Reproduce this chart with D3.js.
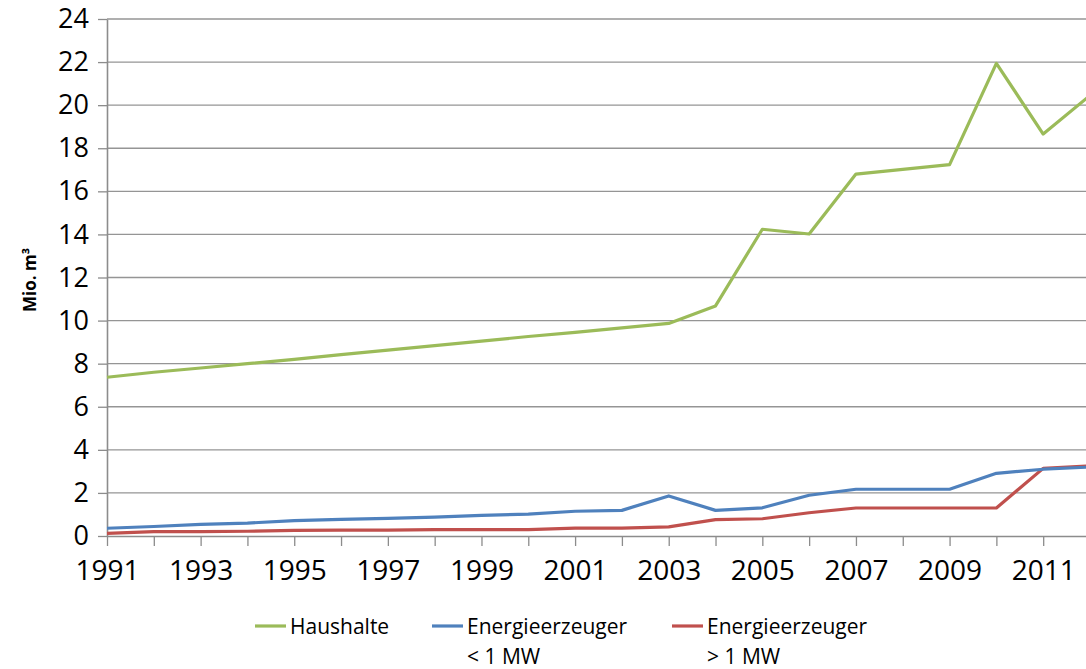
<!DOCTYPE html>
<html>
<head>
<meta charset="utf-8">
<script src="https://cdn.jsdelivr.net/npm/d3@7"></script>
<style>
  body { margin: 0; background: #fff; }
  svg { display: block; font-family: "Open Sans", sans-serif; }
</style>
</head>
<body>
<div id="chart"></div>
<script>
// Data
var years = d3.range(1991, 2013);
var haushalte = [7.37, 7.6, 7.8, 8.0, 8.2, 8.42, 8.63, 8.84, 9.05, 9.26, 9.45, 9.66, 9.87, 10.68, 14.24, 14.02, 16.8, 17.02, 17.24, 21.94, 18.66, 20.45];
var unter1MW = [0.36, 0.44, 0.54, 0.6, 0.71, 0.77, 0.82, 0.88, 0.96, 1.02, 1.15, 1.19, 1.86, 1.19, 1.31, 1.89, 2.17, 2.17, 2.17, 2.91, 3.1, 3.2];
var ueber1MW = [0.12, 0.2, 0.2, 0.22, 0.26, 0.27, 0.27, 0.3, 0.3, 0.3, 0.37, 0.37, 0.42, 0.76, 0.8, 1.08, 1.3, 1.3, 1.3, 1.3, 3.14, 3.25];
var yTicks = d3.range(0, 25, 2);
var xLabelYears = d3.range(1991, 2013, 2);

var series = [
    { name: ["Haushalte"], values: haushalte, color: "#9BBB59" },
    { name: ["Energieerzeuger", "< 1 MW"], values: unter1MW, color: "#4F81BD" },
    { name: ["Energieerzeuger", "> 1 MW"], values: ueber1MW, color: "#C0504D" }
];

// Dimensions
var svgWidth = 1086;
var svgHeight = 669;

var svg = d3.select("#chart")
    .append("svg")
    .attr("width", svgWidth)
    .attr("height", svgHeight);

// Scales (plot runs past the right edge of the picture)
var xScale = d3.scaleLinear()
    .domain([1991, 2012])
    .range([107, 1090]);

var yScale = d3.scaleLinear()
    .domain([0, 24])
    .range([536, 19]);

// Horizontal gridlines
svg.append("g")
    .selectAll("line")
    .data(yTicks.filter(d => d > 0))
    .enter()
    .append("line")
    .attr("x1", xScale(1991))
    .attr("x2", xScale(2012))
    .attr("y1", d => yScale(d))
    .attr("y2", d => yScale(d))
    .attr("stroke", "#959595")
    .attr("stroke-width", 1.3);

// Left axis
var leftAxis = d3.axisLeft(yScale)
    .tickValues(yTicks)
    .tickSize(9)
    .tickPadding(9)
    .tickSizeOuter(0);

var gLeft = svg.append("g")
    .attr("transform", `translate(${xScale(1991)}, 0)`)
    .call(leftAxis);

// Bottom axis
var bottomAxis = d3.axisBottom(xScale)
    .tickValues(years)
    .tickSize(10)
    .tickSizeOuter(0)
    .tickFormat(d => xLabelYears.includes(d) ? d : "");

var gBottom = svg.append("g")
    .attr("transform", `translate(0, ${yScale(0)})`)
    .call(bottomAxis);

[gLeft, gBottom].forEach(function (g) {
    g.select(".domain").attr("stroke", "#8c8c8c").attr("stroke-width", 1.6);
    g.selectAll(".tick line").attr("stroke", "#8c8c8c").attr("stroke-width", 1.3);
    g.selectAll(".tick text")
        .attr("fill", "#000")
        .style("font-family", "'Open Sans', sans-serif");
});
gLeft.selectAll(".tick text").style("font-size", "27px");
gBottom.selectAll(".tick text")
    .style("font-size", "28px")
    .attr("dy", "1.1em");

// Axis title
svg.append("text")
    .attr("transform", "translate(36, 280) rotate(-90)")
    .attr("text-anchor", "middle")
    .style("font-size", "17px")
    .style("font-weight", "bold")
    .text("Mio. m³");

// Lines
var line = d3.line()
    .x((d, i) => xScale(years[i]))
    .y(d => yScale(d));

svg.append("g")
    .selectAll("path")
    .data(series.slice().reverse())
    .enter()
    .append("path")
    .attr("d", d => line(d.values))
    .attr("fill", "none")
    .attr("stroke", d => d.color)
    .attr("stroke-width", 3.2)
    .attr("stroke-linejoin", "round");

// Legend
var legendX = [255, 432, 672];
var legend = svg.append("g")
    .selectAll("g")
    .data(series)
    .enter()
    .append("g")
    .attr("transform", (d, i) => `translate(${legendX[i]}, 626)`);

legend.append("line")
    .attr("x1", 0)
    .attr("x2", 31)
    .attr("stroke", d => d.color)
    .attr("stroke-width", 3.2);

legend.append("text")
    .attr("x", 35)
    .attr("y", 8)
    .style("font-size", "21px")
    .selectAll("tspan")
    .data(d => d.name)
    .enter()
    .append("tspan")
    .attr("x", 35)
    .attr("dy", (d, i) => i === 0 ? 0 : 30)
    .text(d => d);
</script>
</body>
</html>
